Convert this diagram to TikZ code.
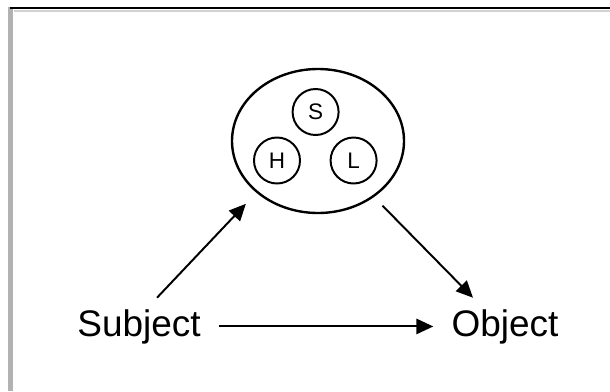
\documentclass[tikz,border=0pt]{standalone}
\usepackage{fontspec}
\setmainfont{Liberation Sans}
\usetikzlibrary{arrows.meta,shapes.geometric}

\begin{document}
\begin{tikzpicture}[
    cls/.style={circle,draw,line width=1.4pt,minimum size=1.15cm,inner sep=0pt,font=\fontsize{16}{18}\selectfont},
    grp/.style={ellipse,draw,line width=1.7pt,minimum width=4.3cm,minimum height=3.6cm,inner sep=0pt},
    txt/.style={inner xsep=0.45cm,inner ysep=0.28cm,anchor=base,font=\fontsize{26.3}{30}\selectfont},
    arr/.style={line width=1.4pt,-{Triangle[length=0.42cm,width=0.38cm]}}]
\useasboundingbox (0,0) rectangle (15.25,9.775);
\draw[gray!60,line width=3pt] (0.2625,0) -- (0.2625,9.6);
\draw[gray!35,line width=1pt] (0.35,9.5) -- (15.25,9.5);
\draw[line width=1.9pt] (0.25,9.575) -- (15.25,9.575);
\node[grp] (G) at (7.95,6.25) {};
\node[cls] (S) at (7.89,6.975) {S};
\node[cls] (H) at (6.925,5.7625) {H};
\node[cls] (L) at (8.84,5.7625) {L};
\node[txt] (subj) at (3.475,1.375) {Subject};
\node[txt] (obj) at (12.625,1.375) {Object};
\draw[arr,shorten >=0.38cm] ([xshift=0.45cm]subj.north) -- (G.south west);
\draw[arr,shorten <=0.3cm] (G.-45) -- ([xshift=-0.8cm]obj.north);
\draw[arr] (subj.east) -- (obj.west);
\end{tikzpicture}
\end{document}
